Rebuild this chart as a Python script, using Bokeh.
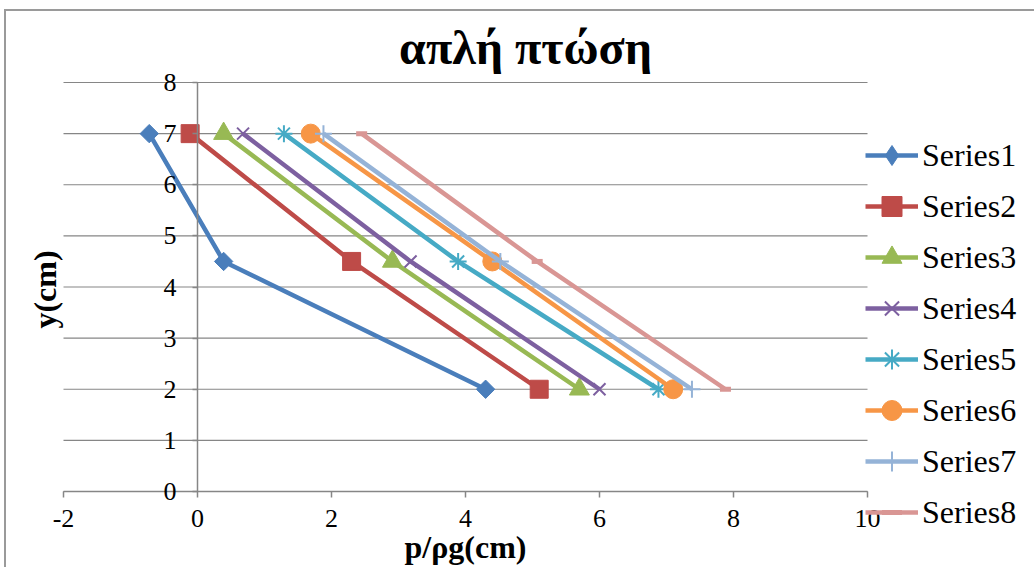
import math

from bokeh.embed import file_html
from bokeh.models import FixedTicker, Label, Legend, LegendItem, Range1d
from bokeh.plotting import figure
from bokeh.resources import INLINE

# depth y (cm) at which the pressure head was measured
y_cm = [7, 4.5, 2]

# pressure head p/ρg (cm) for each run
series1 = [-0.72, 0.39, 4.30]
series2 = [-0.11, 2.30, 5.10]
series3 = [0.39, 2.91, 5.70]
series4 = [0.68, 3.18, 6.00]
series5 = [1.29, 3.89, 6.88]
series6 = [1.69, 4.40, 7.10]
series7 = [1.88, 4.52, 7.38]
series8 = [2.45, 5.07, 7.88]

series_names = ["Series1", "Series2", "Series3", "Series4",
                "Series5", "Series6", "Series7", "Series8"]
x_ticks = [-2, 0, 2, 4, 6, 8, 10]
y_ticks = [0, 1, 2, 3, 4, 5, 6, 7, 8]

SERIF = "Liberation Serif"
GRID = "#868686"

W, H = 1030, 558
# plot area inside the canvas, in pixels
PL, PR, PT, PB = 57, 861, 71, 480
x0, x1 = x_ticks[0], x_ticks[-1]
y0, y1 = y_ticks[0], y_ticks[-1]
kx = (PR - PL) / (x1 - x0)
ky = (PB - PT) / (y1 - y0)

# the frame fills the whole canvas so that axis titles and legend are not clipped
p = figure(
    width=W, height=H,
    output_backend="svg", toolbar_location=None,
    x_range=Range1d(x0 - PL / kx, x1 + (W - PR) / kx),
    y_range=Range1d(y0 - (H - PB) / ky, y1 + PT / ky),
    min_border=0,
    styles={
        "margin-left": "4px", "margin-top": "9px",
        "border-left": "2px solid #9a9a9a", "border-top": "2px solid #9a9a9a",
    },
)
p.outline_line_color = None
p.background_fill_color = "white"
p.border_fill_color = "white"
p.xgrid.visible = False
p.ygrid.visible = False

# horizontal gridlines across the value range
p.segment(x0=[x0] * len(y_ticks), x1=[x1] * len(y_ticks), y0=y_ticks, y1=y_ticks,
          line_color=GRID, line_width=1.2)

# x axis along y = 0
xa = p.xaxis[0]
xa.fixed_location = 0
xa.bounds = (x0, x1)
xa.ticker = FixedTicker(ticks=x_ticks)
xa.major_label_overrides = {t: str(t) for t in x_ticks}
xa.axis_line_color = GRID
xa.axis_line_width = 1.5
xa.major_tick_line_color = GRID
xa.major_tick_line_width = 1.5
xa.major_tick_in = 0
xa.major_tick_out = 6
xa.minor_tick_line_color = None
xa.major_label_standoff = 12
xa.major_label_text_font = SERIF
xa.major_label_text_font_size = "26px"
xa.major_label_text_color = "black"

# y axis crossing at x = 0
ya = p.yaxis[0]
ya.fixed_location = 0
ya.bounds = (y0, y1)
ya.ticker = FixedTicker(ticks=y_ticks)
ya.major_label_overrides = {t: str(t) for t in y_ticks}
ya.axis_line_color = GRID
ya.axis_line_width = 1.5
ya.major_tick_line_color = GRID
ya.major_tick_line_width = 1.5
ya.major_tick_in = 0
ya.major_tick_out = 5
ya.minor_tick_line_color = None
ya.major_label_standoff = 16
ya.major_label_text_font = SERIF
ya.major_label_text_font_size = "26px"
ya.major_label_text_color = "black"

styles = [
    dict(color="#4A7EBB", marker="square", size=13, angle=math.pi / 4, key="diamond"),
    dict(color="#BE4B48", marker="square", size=18),
    dict(color="#98B954", marker="triangle", size=20),
    dict(color="#7D60A0", marker="x", size=17, line_width=2),
    dict(color="#46AAC5", marker="asterisk", size=17, line_width=2),
    dict(color="#F79646", marker="circle", size=19),
    dict(color="#95B3D7", marker="cross", size=17, line_width=2),
    dict(color="#D99694", marker="dash", size=11, line_width=5),
]
all_series = [series1, series2, series3, series4,
              series5, series6, series7, series8]

items = []
for name, xs, st in zip(series_names, all_series, styles):
    ln = p.line(xs, y_cm, line_color=st["color"], line_width=4.5)
    sc = p.scatter(
        xs, y_cm, marker=st["marker"], size=st["size"],
        angle=st.get("angle", 0.0),
        fill_color=st["color"], line_color=st["color"],
        line_width=st.get("line_width", 1),
    )
    key = sc
    if "key" in st:
        # legend keys are drawn unrotated, so the key uses its own marker
        key = p.scatter(
            xs, y_cm, marker=st["key"], size=st["size"],
            fill_color=st["color"], line_color=st["color"], visible=False,
        )
    items.append(LegendItem(label=name, renderers=[ln, key]))

legend = Legend(
    items=items,
    location=(859, 32),
    orientation="vertical",
    glyph_width=53, glyph_height=50,
    label_height=50, spacing=1,
    label_standoff=4,
    padding=0, margin=0,
    border_line_color=None,
    background_fill_alpha=0,
    label_text_font=SERIF,
    label_text_font_size="32px",
    label_text_color="black",
)
p.add_layout(legend, "center")

# chart title and axis titles
p.add_layout(Label(
    x=519, y=522, x_units="screen", y_units="screen",
    text="απλή πτώση", text_font=SERIF, text_font_size="48px",
    text_font_style="bold", text_align="center", text_baseline="alphabetic",
    text_color="black",
))
p.add_layout(Label(
    x=459, y=23, x_units="screen", y_units="screen",
    text="p/ρg(cm)", text_font=SERIF, text_font_size="32px",
    text_font_style="bold", text_align="center", text_baseline="middle",
    text_color="black",
))
p.add_layout(Label(
    x=38, y=280, x_units="screen", y_units="screen", angle=math.pi / 2,
    text="y(cm)", text_font=SERIF, text_font_size="32px",
    text_font_style="bold", text_align="center", text_baseline="middle",
    text_color="black",
))

open("out.html", "w").write(file_html(p, INLINE))
